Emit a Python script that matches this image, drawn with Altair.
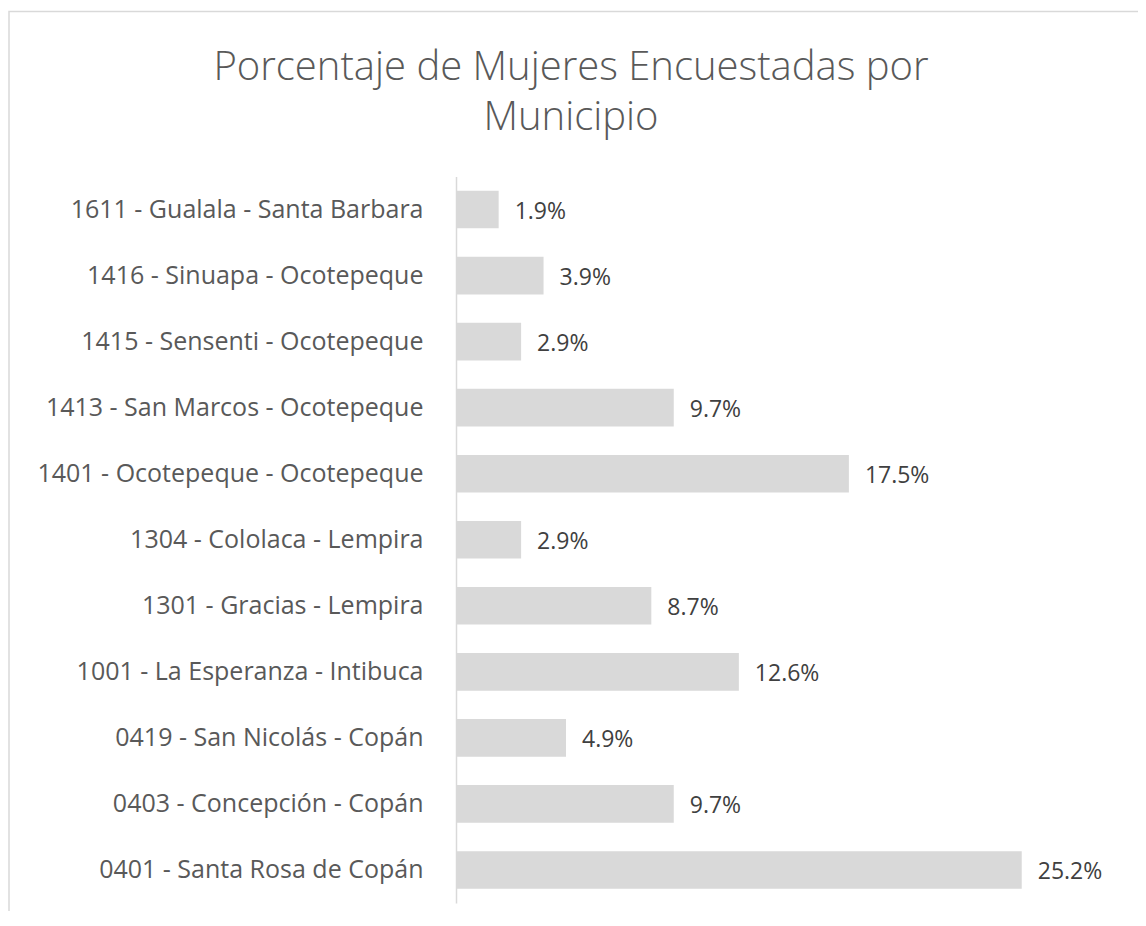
import altair as alt
import pandas as pd

municipios = [
    "1611 - Gualala - Santa Barbara",
    "1416 - Sinuapa - Ocotepeque",
    "1415 - Sensenti - Ocotepeque",
    "1413 - San Marcos - Ocotepeque",
    "1401 - Ocotepeque - Ocotepeque",
    "1304 - Cololaca - Lempira",
    "1301 - Gracias - Lempira",
    "1001 - La Esperanza - Intibuca",
    "0419 - San Nicolás - Copán",
    "0403 - Concepción - Copán",
    "0401 - Santa Rosa de Copán",
]
porcentajes = [1.9, 3.9, 2.9, 9.7, 17.5, 2.9, 8.7, 12.6, 4.9, 9.7, 25.2]
titulo = ["Porcentaje de Mujeres Encuestadas por", "Municipio"]

df = pd.DataFrame({"municipio": municipios, "pct": porcentajes})

FONT = "Open Sans"
W = 673.5
H = 726.5

base = alt.Chart(df).encode(
    y=alt.Y(
        "municipio:N",
        sort=municipios,
        scale=alt.Scale(paddingInner=0.43, paddingOuter=0.215),
        axis=alt.Axis(
            title=None,
            ticks=False,
            domain=True,
            domainColor="#D9D9D9",
            domainWidth=1.5,
            labelFont=FONT,
            labelFontSize=25,
            labelColor="#595959",
            labelPadding=33,
            labelLimit=500,
            grid=False,
        ),
    ),
    x=alt.X("pct:Q", scale=alt.Scale(domain=[0, 30], nice=False), axis=None),
)

bars = base.mark_bar(color="#D9D9D9")

labels = base.transform_calculate(
    lbl="format(datum.pct, '.1f') + '%'"
).mark_text(
    align="left", baseline="middle", dx=16, dy=2, font=FONT, fontSize=23, color="#404040"
).encode(text="lbl:N")

border = alt.Chart(df.head(1)).mark_rect(
    fill=None, stroke="#D9D9D9", strokeWidth=1.5
).encode(
    x=alt.value(-447), x2=alt.value(900), y=alt.value(-165), y2=alt.value(900)
)

title = alt.Chart(df.head(1)).mark_text(
    align="center", baseline="alphabetic", font=FONT, fontSize=40, fontWeight=300,
    color="#595959", lineHeight=50
).encode(
    x=alt.value(115), y=alt.value(-96.5), text=alt.value(titulo)
)

chart = (
    alt.layer(border, title, bars, labels)
    .properties(
        width=W,
        height=H,
        autosize=alt.AutoSizeParams(type="none"),
        padding={"left": 448, "top": 168.5, "right": 8, "bottom": 8},
        background="white",
    )
    .configure_view(stroke=None)
)

chart.save("out.html", embed_options={"renderer": "svg", "actions": False})
